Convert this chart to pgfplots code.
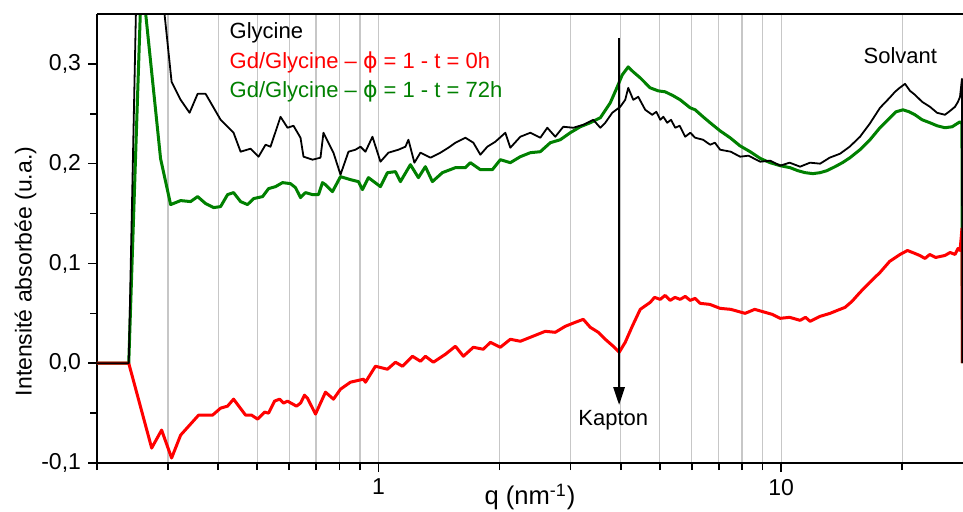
\documentclass[border=0pt]{standalone}
\usepackage{fontspec}
\setmainfont{Liberation Sans}
\newfontfamily\dejavu{DejaVu Sans}
\usepackage{pgfplots}
\pgfplotsset{compat=1.18}
\usetikzlibrary{arrows.meta}
\definecolor{ogreen}{RGB}{0,128,0}
\definecolor{ored}{RGB}{255,0,0}
\begin{document}
\begin{tikzpicture}
\begin{axis}[name=ax, at={(0,0)}, anchor=south west, scale only axis,
  width=433pt, height=224.5pt,
  xmode=log, xmin=0.2, xmax=28.3, ymin=-0.1, ymax=0.35,
  axis x line*=bottom, axis y line*=left,
  axis line style={line width=0.9pt, -},
  xtick={1,10}, xticklabels={1,10},
  minor xtick={0.2,0.3,0.4,0.5,0.6,0.7,0.8,0.9,2,3,4,5,6,7,8,9,20},
  xmajorgrids, xminorgrids,
  major grid style={black!22, line width=0.6pt},
  minor grid style={black!22, line width=0.6pt},
  ytick={-0.1,0,0.1,0.2,0.3}, minor ytick={-0.05,0.05,0.15,0.25},
  tick align=outside, major tick length=4.5pt, minor tick length=3.5pt,
  tick style={black, line width=0.8pt},
  yticklabel style={/pgf/number format/.cd, fixed, fixed zerofill, precision=1, use comma, assume math mode=true},
  ticklabel style={font=\fontsize{11.5}{13}\selectfont},
  xlabel={q (nm\textsuperscript{-1})},
  ylabel={Intensité absorbée (u.a.)},
  every axis x label/.style={at={(axis description cs:0.5,-0.0935)}, anchor=base, inner sep=0pt, font=\fontsize{12.8}{14}\selectfont},
  every axis y label/.style={at={(axis description cs:-0.0826,0.4265)}, rotate=90, anchor=center, font=\fontsize{11.5}{13}\selectfont},
  clip=true,
]
% Gd/Glycine t=72h
\addplot[ogreen, line width=1.5pt, line join=round] coordinates {
(0.2,0) (0.2398,0) (0.2581,0.39) (0.2877,0.205) (0.3047,0.159) (0.3227,0.163) (0.3415,0.162)
(0.3556,0.167) (0.3722,0.160) (0.3897,0.156) (0.4055,0.157) (0.4220,0.169) (0.4367,0.171)
(0.4546,0.162) (0.4730,0.159) (0.4896,0.165) (0.5155,0.167) (0.5334,0.175) (0.5552,0.177)
(0.5778,0.181) (0.6048,0.180) (0.6223,0.176) (0.6404,0.166) (0.6590,0.171) (0.6858,0.169)
(0.7097,0.169) (0.7261,0.181) (0.7387,0.179) (0.7689,0.172) (0.8049,0.187) (0.8521,0.184)
(0.8920,0.182) (0.9127,0.174) (0.9444,0.186) (1.0115,0.177) (1.0527,0.191) (1.1022,0.192)
(1.1338,0.182) (1.2006,0.199) (1.2567,0.186) (1.3080,0.197) (1.3614,0.182) (1.4416,0.191)
(1.5529,0.196) (1.6441,0.196) (1.6917,0.201) (1.7910,0.194) (1.9185,0.194) (2.0079,0.204)
(2.1260,0.201) (2.2510,0.207) (2.3835,0.211) (2.5235,0.212) (2.6718,0.221) (2.8288,0.224)
(2.9950,0.231) (3.1710,0.237) (3.3579,0.241) (3.5563,0.246) (3.7652,0.261) (3.9193,0.277)
(4.0318,0.289) (4.1720,0.297) (4.2937,0.292) (4.4685,0.286) (4.7308,0.276) (4.95,0.273)
(5.1556,0.272) (5.4,0.268) (5.6156,0.264) (5.9457,0.256) (6.1180,0.254) (6.4,0.247)
(6.6650,0.241) (7.05,0.233) (7.4702,0.226) (7.9,0.218) (8.3768,0.212) (8.9,0.205)
(9.3914,0.201) (9.95,0.198) (10.527,0.196) (11.0,0.193) (11.471,0.191) (12.0,0.190)
(12.498,0.191) (13.0,0.193) (13.614,0.197) (14.2,0.201) (14.834,0.206) (15.7,0.214)
(16.628,0.224) (17.6,0.236) (18.643,0.246) (19.3,0.252) (20.080,0.254) (20.8,0.252)
(21.504,0.249) (22.4,0.244) (23.428,0.241) (24.4,0.238) (25.52,0.236) (26.6,0.237)
(27.82,0.242) (28.13,0.240) (28.2,0)
};
% Gd/Glycine t=0h
\addplot[ored, line width=1.5pt, line join=round] coordinates {
(0.2,0) (0.2398,0) (0.2734,-0.085) (0.2894,-0.067) (0.3064,-0.095) (0.3227,-0.072)
(0.3576,-0.052) (0.3874,-0.052) (0.4055,-0.045) (0.4220,-0.043) (0.4367,-0.036)
(0.4677,-0.052) (0.4841,-0.052) (0.5010,-0.056) (0.5214,-0.049) (0.5334,-0.050)
(0.5520,-0.038) (0.5680,-0.036) (0.5812,-0.040) (0.5946,-0.038) (0.6258,-0.043)
(0.6404,-0.040) (0.6552,-0.032) (0.6665,-0.035) (0.6977,-0.051) (0.7387,-0.029)
(0.7733,-0.036) (0.8049,-0.026) (0.8521,-0.019) (0.9179,-0.016) (0.9284,-0.019)
(0.9830,-0.003) (1.0527,-0.006) (1.1022,0.001) (1.1470,-0.003) (1.2144,0.007)
(1.2712,0.002) (1.3080,0.007) (1.3692,0.001) (1.4667,0.009) (1.5529,0.017) (1.6254,0.007)
(1.7208,0.016) (1.8221,0.014) (1.8965,0.021) (2.0079,0.016) (2.1260,0.024) (2.2510,0.022)
(2.3835,0.026) (2.5966,0.032) (2.7491,0.031) (2.9107,0.037) (3.0817,0.041) (3.2262,0.044)
(3.3579,0.036) (3.5158,0.031) (3.6593,0.024) (3.8301,0.017) (3.9628,0.011) (4.1013,0.021)
(4.2691,0.037) (4.4685,0.054) (4.7308,0.061) (4.85,0.066) (5.0106,0.064) (5.15,0.068)
(5.3045,0.063) (5.45,0.066) (5.6156,0.064) (5.78,0.067) (5.9457,0.063) (6.12,0.065)
(6.2951,0.060) (6.65,0.059) (7.0566,0.055) (7.5,0.054) (8.1406,0.050) (8.6,0.054)
(9.1290,0.051) (9.5,0.049) (9.9426,0.045) (10.5,0.046) (11.146,0.043) (11.5,0.046)
(11.803,0.042) (12.5,0.047) (13.232,0.050) (13.8,0.053) (14.415,0.056) (15.0,0.062)
(15.704,0.071) (16.6,0.081) (17.609,0.091) (18.6,0.102) (19.739,0.109) (20.6,0.113)
(21.504,0.110) (22.1,0.108) (22.768,0.105) (23.4,0.109) (24.2,0.106) (25.52,0.108)
(26.3,0.111) (27.03,0.109) (27.5,0.115) (27.82,0.113) (28.0,0.125) (28.13,0.135) (28.2,0)
};
% Glycine
\addplot[black, line width=0.9pt, line join=round] coordinates {
(0.2,0) (0.2398,0) (0.2566,0.58) (0.3064,0.282) (0.3227,0.264) (0.3396,0.251) (0.3556,0.270)
(0.3722,0.270) (0.4055,0.244) (0.4367,0.231) (0.4546,0.212) (0.4813,0.215) (0.5038,0.207)
(0.5244,0.219) (0.5395,0.217) (0.5713,0.247) (0.5946,0.236) (0.6152,0.238) (0.6404,0.226)
(0.6515,0.207) (0.6858,0.204) (0.7179,0.206) (0.7303,0.231) (0.7733,0.211) (0.8049,0.189)
(0.8425,0.212) (0.8768,0.214) (0.9023,0.217) (0.9284,0.212) (0.9663,0.227) (1.0115,0.202)
(1.0588,0.211) (1.1210,0.214) (1.1668,0.217) (1.1869,0.224) (1.2283,0.201) (1.2712,0.211)
(1.3459,0.206) (1.4251,0.211) (1.4919,0.216) (1.5529,0.221) (1.6441,0.226) (1.7208,0.221)
(1.7910,0.209) (1.8644,0.217) (1.9516,0.222) (2.0660,0.231) (2.1260,0.216) (2.2510,0.227)
(2.3835,0.231) (2.5235,0.226) (2.6264,0.236) (2.7491,0.227) (2.8780,0.237) (3.0471,0.236)
(3.2262,0.239) (3.4160,0.244) (3.5563,0.236) (3.6593,0.241) (3.8083,0.251) (3.9858,0.257)
(4.1013,0.264) (4.1720,0.276) (4.2937,0.264) (4.4180,0.267) (4.5976,0.254) (4.7856,0.249)
(4.9,0.252) (5.0106,0.244) (5.1,0.247) (5.2141,0.241) (5.33,0.244) (5.4575,0.236)
(5.6,0.238) (5.7785,0.227) (5.95,0.231) (6.1180,0.226) (6.4,0.224) (6.6650,0.219)
(6.85,0.221) (7.0566,0.214) (7.5,0.212) (7.9113,0.207) (8.3,0.208) (8.8716,0.202)
(9.4,0.203) (9.9426,0.198) (10.5,0.201) (11.146,0.197) (11.8,0.201) (12.498,0.200)
(13.2,0.206) (14.010,0.210) (14.8,0.217) (15.704,0.227) (16.6,0.240) (17.609,0.256)
(18.6,0.266) (19.183,0.272) (19.7,0.276) (20.312,0.280) (20.9,0.273) (21.504,0.269)
(22.4,0.262) (23.428,0.257) (24.4,0.251) (25.52,0.249) (26.3,0.253) (27.03,0.257)
(27.5,0.262) (27.82,0.267) (28.13,0.285) (28.2,0)
};
\draw[black, line width=1.4pt, -{Triangle[length=9pt,width=5.5pt]}] (axis cs:3.96,0.326) -- (axis cs:3.96,-0.042);
\node[anchor=base west, inner sep=0pt, font=\fontsize{11}{13}\selectfont] at (axis cs:3.13,-0.0627) {Kapton};
\node[anchor=base west, inner sep=0pt, font=\fontsize{11}{13}\selectfont] at (axis cs:16.0,0.3007) {Solvant};
\node[anchor=base west, inner sep=0pt, font=\fontsize{11}{13}\selectfont] at (axis description cs:0.1528,0.9465) {Glycine};
\node[anchor=base west, inner sep=0pt, font=\fontsize{11}{13}\selectfont, text=ored] at (axis description cs:0.1528,0.8797) {Gd/Glycine – {\dejavu ϕ} = 1 - t = 0h};
\node[anchor=base west, inner sep=0pt, font=\fontsize{11}{13}\selectfont, text=ogreen] at (axis description cs:0.1528,0.8151) {Gd/Glycine – {\dejavu ϕ} = 1 - t = 72h};
\end{axis}
\draw[line width=0.9pt] (ax.north west) -- (ax.north east);
\pgfresetboundingbox
\path[use as bounding box] (-48.5pt,-24pt) rectangle (433pt,231.5pt);
\end{tikzpicture}
\end{document}
